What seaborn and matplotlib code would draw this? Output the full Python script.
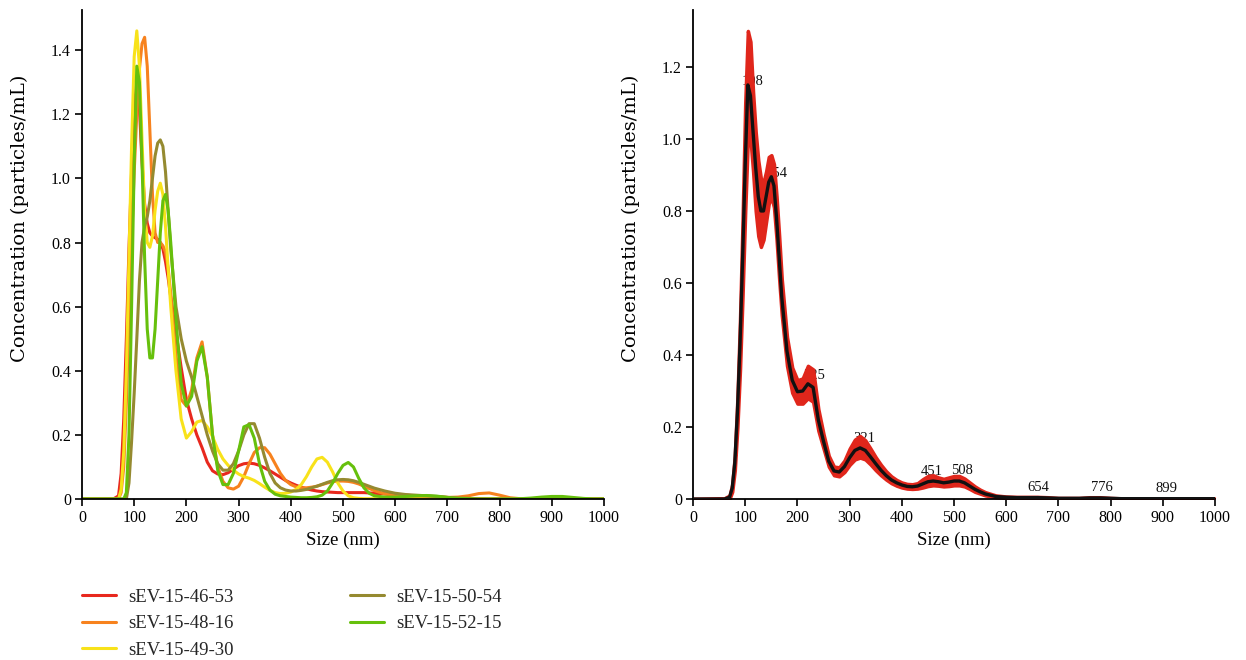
import matplotlib
matplotlib.use('Agg')
import matplotlib.pyplot as plt
import seaborn as sns
import numpy as np
import pandas as pd

# ── Data (size in nm, concentration) ────────────────────────────────────────
sizes = [0, 60, 70, 75, 80, 85, 90, 95, 100, 105, 110, 115, 120, 125, 130, 135,
         140, 145, 150, 155, 160, 165, 170, 180, 190, 200, 210, 220, 230, 240,
         250, 260, 270, 280, 290, 300, 310, 320, 330, 340, 350, 360, 370, 380,
         390, 400, 410, 420, 430, 440, 450, 460, 470, 480, 490, 500, 510, 520,
         530, 540, 550, 560, 580, 600, 620, 640, 660, 680, 700, 720, 740, 760,
         780, 800, 820, 840, 860, 880, 900, 920, 940, 960, 980, 1000]

sev_46_53 = [0, 0, 0.01, 0.08, 0.25, 0.5, 0.78, 1.02, 1.22, 1.3, 1.22, 1.05, 0.92, 0.86, 0.83, 0.82,
             0.815, 0.81, 0.8, 0.78, 0.74, 0.69, 0.63, 0.52, 0.41, 0.31, 0.25, 0.2, 0.16, 0.115,
             0.088, 0.078, 0.076, 0.082, 0.093, 0.104, 0.11, 0.112, 0.11, 0.105, 0.097, 0.088, 0.078, 0.068,
             0.058, 0.05, 0.043, 0.037, 0.032, 0.028, 0.025, 0.023, 0.022, 0.021, 0.02, 0.02, 0.02, 0.02,
             0.02, 0.02, 0.019, 0.018, 0.016, 0.014, 0.012, 0.01, 0.009, 0.007, 0.005, 0.003, 0.002, 0.001,
             0, 0, 0, 0, 0, 0, 0, 0, 0, 0, 0, 0]

sev_48_16 = [0, 0, 0, 0.02, 0.1, 0.3, 0.55, 0.8, 1.02, 1.2, 1.34, 1.42, 1.44, 1.35, 1.15, 0.95,
             0.83, 0.8, 0.8, 0.79, 0.77, 0.72, 0.64, 0.45, 0.31, 0.29, 0.34, 0.44, 0.49, 0.38,
             0.2, 0.1, 0.055, 0.035, 0.031, 0.04, 0.07, 0.11, 0.145, 0.16, 0.16, 0.14, 0.11, 0.08,
             0.058, 0.045, 0.038, 0.035, 0.035, 0.037, 0.04, 0.045, 0.05, 0.054, 0.056, 0.056, 0.055, 0.052,
             0.047, 0.04, 0.033, 0.026, 0.016, 0.01, 0.007, 0.006, 0.006, 0.005, 0.005, 0.006, 0.01, 0.017,
             0.019, 0.012, 0.004, 0.001, 0, 0, 0, 0, 0, 0, 0, 0]

sev_49_30 = [0, 0, 0, 0.03, 0.15, 0.4, 0.75, 1.1, 1.38, 1.46, 1.35, 1.12, 0.9, 0.8, 0.785, 0.82,
             0.9, 0.96, 0.985, 0.95, 0.85, 0.72, 0.6, 0.4, 0.25, 0.19, 0.21, 0.24, 0.245, 0.225,
             0.195, 0.155, 0.125, 0.105, 0.09, 0.078, 0.07, 0.065, 0.058, 0.048, 0.037, 0.027, 0.02, 0.017,
             0.018, 0.022, 0.03, 0.045, 0.07, 0.1, 0.125, 0.13, 0.115, 0.085, 0.05, 0.025, 0.01, 0.004,
             0.002, 0.001, 0.001, 0.001, 0, 0, 0, 0, 0, 0, 0, 0, 0, 0,
             0, 0, 0, 0, 0, 0, 0, 0, 0, 0, 0, 0]

sev_50_54 = [0, 0, 0, 0, 0, 0, 0.05, 0.18, 0.33, 0.5, 0.68, 0.8, 0.85, 0.88, 0.93, 1.0,
             1.07, 1.11, 1.12, 1.1, 1.02, 0.9, 0.78, 0.6, 0.5, 0.43, 0.38, 0.32, 0.26, 0.2,
             0.15, 0.11, 0.09, 0.09, 0.11, 0.15, 0.2, 0.235, 0.235, 0.19, 0.13, 0.08, 0.05, 0.035,
             0.028, 0.025, 0.025, 0.027, 0.03, 0.035, 0.04, 0.046, 0.052, 0.057, 0.06, 0.061, 0.06, 0.057,
             0.052, 0.046, 0.04, 0.034, 0.025, 0.018, 0.014, 0.012, 0.01, 0.008, 0.005, 0.003, 0.002, 0,
             0, 0, 0, 0, 0, 0, 0, 0, 0, 0, 0, 0]

sev_52_15 = [0, 0, 0, 0, 0, 0.02, 0.2, 0.6, 1.05, 1.35, 1.3, 1.05, 0.75, 0.53, 0.44, 0.44,
             0.53, 0.68, 0.83, 0.93, 0.95, 0.9, 0.8, 0.56, 0.36, 0.29, 0.32, 0.43, 0.475, 0.38,
             0.2, 0.09, 0.045, 0.045, 0.08, 0.15, 0.225, 0.232, 0.19, 0.11, 0.055, 0.028, 0.015, 0.01,
             0.008, 0.006, 0.005, 0.004, 0.004, 0.005, 0.007, 0.012, 0.025, 0.05, 0.08, 0.105, 0.114, 0.1,
             0.065, 0.035, 0.018, 0.01, 0.006, 0.006, 0.008, 0.01, 0.011, 0.009, 0.005, 0.002, 0.001, 0,
             0, 0, 0, 0.001, 0.003, 0.006, 0.008, 0.008, 0.005, 0.002, 0, 0]

sample_names = ['sEV-15-46-53', 'sEV-15-48-16', 'sEV-15-49-30', 'sEV-15-50-54', 'sEV-15-52-15']
sample_colors = ['#e8281e', '#f7821e', '#f8e21a', '#958a30', '#66c00c']

# averaged distribution with its error band (right panel)
mean_conc = [0, 0, 0.005, 0.03, 0.1, 0.24, 0.43, 0.67, 0.93, 1.15, 1.12, 1.02, 0.92, 0.84, 0.8, 0.8,
             0.84, 0.88, 0.895, 0.87, 0.78, 0.67, 0.56, 0.41, 0.33, 0.298, 0.3, 0.32, 0.31, 0.22,
             0.16, 0.105, 0.078, 0.075, 0.09, 0.115, 0.135, 0.142, 0.135, 0.117, 0.098, 0.08, 0.065, 0.053,
             0.045, 0.039, 0.035, 0.034, 0.036, 0.042, 0.048, 0.05, 0.048, 0.045, 0.047, 0.05, 0.05, 0.045,
             0.036, 0.027, 0.02, 0.014, 0.007, 0.005, 0.004, 0.004, 0.004, 0.003, 0.002, 0.002, 0.002, 0.003,
             0.003, 0.002, 0.001, 0.001, 0.001, 0.001, 0.001, 0.001, 0.001, 0.001, 0.001, 0.001]
upper_conc = [0, 0.002, 0.01, 0.04, 0.12, 0.28, 0.5, 0.78, 1.1, 1.3, 1.27, 1.13, 1.02, 0.94, 0.89, 0.88,
              0.91, 0.95, 0.955, 0.93, 0.84, 0.73, 0.61, 0.45, 0.365, 0.33, 0.335, 0.37, 0.36, 0.25,
              0.18, 0.12, 0.09, 0.088, 0.107, 0.14, 0.165, 0.175, 0.163, 0.14, 0.116, 0.095, 0.077, 0.063,
              0.053, 0.046, 0.042, 0.041, 0.044, 0.055, 0.064, 0.066, 0.06, 0.056, 0.06, 0.064, 0.064, 0.057,
              0.046, 0.035, 0.026, 0.019, 0.01, 0.007, 0.006, 0.006, 0.006, 0.005, 0.003, 0.003, 0.003, 0.005,
              0.005, 0.003, 0.002, 0.001, 0.001, 0.001, 0.001, 0.001, 0.001, 0.001, 0.001, 0.001]
lower_conc = [0, 0, 0.001, 0.02, 0.08, 0.2, 0.36, 0.57, 0.8, 1.0, 1.0, 0.91, 0.8, 0.73, 0.7, 0.72,
              0.77, 0.82, 0.84, 0.81, 0.72, 0.61, 0.51, 0.37, 0.295, 0.265, 0.265, 0.28, 0.27, 0.19,
              0.14, 0.09, 0.066, 0.063, 0.075, 0.095, 0.11, 0.115, 0.11, 0.096, 0.08, 0.066, 0.054, 0.044,
              0.037, 0.032, 0.029, 0.028, 0.029, 0.032, 0.036, 0.038, 0.037, 0.035, 0.036, 0.038, 0.038, 0.035,
              0.028, 0.02, 0.015, 0.01, 0.005, 0.003, 0.002, 0.002, 0.002, 0.002, 0.001, 0.001, 0.001, 0.001,
              0.001, 0.001, 0, 0, 0, 0, 0, 0, 0, 0, 0, 0]

peak_sizes = [108, 154, 225, 321, 451, 508, 654, 776, 899]

# ── Long-form table for seaborn ─────────────────────────────────────────────
series = [sev_46_53, sev_48_16, sev_49_30, sev_50_54, sev_52_15]
df = pd.concat([pd.DataFrame({'size': sizes, 'conc': vals, 'sample': name})
                for name, vals in zip(sample_names, series)], ignore_index=True)
df_mean = pd.DataFrame({'size': sizes, 'conc': mean_conc})

# ── Style ───────────────────────────────────────────────────────────────────
sns.set_theme(style='ticks')
plt.rcParams['font.family'] = ['Liberation Serif', 'DejaVu Serif']
plt.rcParams['axes.edgecolor'] = 'black'
plt.rcParams['axes.linewidth'] = 1.3
plt.rcParams['xtick.color'] = 'black'
plt.rcParams['ytick.color'] = 'black'

fig = plt.figure(figsize=(12.46, 6.6), dpi=100)
ax1 = fig.add_axes([0.0658, 0.2439, 0.419, 0.7409])
ax2 = fig.add_axes([0.5562, 0.2439, 0.419, 0.7409])


def fmt_y(v, _):
    return '0' if abs(v) < 1e-9 else f'{v:.1f}'


def style_axis(ax, ymax, ytop):
    ax.set_xlim(0, 1000)
    ax.set_ylim(0, ytop)
    ax.set_xticks(np.arange(0, 1001, 100))
    ax.set_yticks(np.arange(0, ymax + 0.01, 0.2))
    ax.yaxis.set_major_formatter(plt.FuncFormatter(fmt_y))
    ax.tick_params(direction='out', length=5, width=1.2, labelsize=11.5, pad=3)
    ax.set_xlabel('Size (nm)', fontsize=13.5, color='black')
    # the original y label is widely letter-spaced; a wider serif matches its extent
    ax.set_ylabel('Concentration (particles/mL)', fontsize=14, color='black',
                  family=['DejaVu Serif'])
    ax.yaxis.set_label_coords(-0.102, 0.575)
    sns.despine(ax=ax)


# left panel: individual samples
sns.lineplot(data=df, x='size', y='conc', hue='sample', hue_order=sample_names,
             palette=sample_colors, linewidth=2.2, ax=ax1, legend=True)
style_axis(ax1, 1.4, 1.525)
handles, labels = ax1.get_legend_handles_labels()
ax1.get_legend().remove()
fig.legend(handles, labels, loc='upper left', bbox_to_anchor=(0.066, 0.108),
           ncol=2, frameon=False, fontsize=13.5, handlelength=1.8,
           handletextpad=0.65, columnspacing=6.2, labelspacing=0.5,
           borderpad=0, borderaxespad=0)

# right panel: mean with error band and peak labels
ax2.fill_between(sizes, lower_conc, upper_conc, color='#e0261b', linewidth=2.5,
                 edgecolor='#e0261b', zorder=2)
sns.lineplot(data=df_mean, x='size', y='conc', color='#111111', linewidth=2.4,
             ax=ax2, zorder=3)
style_axis(ax2, 1.2, 1.358)
for p in peak_sizes:
    yv = np.interp(p, sizes, mean_conc)
    ax2.text(p + 7, yv + 0.028, str(p), fontsize=10.5, ha='center', va='center',
             color='#111111', zorder=1)

fig.savefig('out.png', dpi=100)
